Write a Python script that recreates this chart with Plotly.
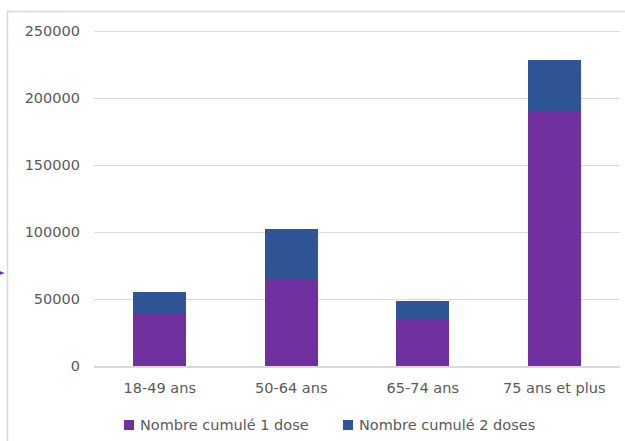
import plotly.graph_objects as go

# Age groups and cumulative vaccination counts
categories = ["18-49 ans", "50-64 ans", "65-74 ans", "75 ans et plus"]
one_dose = [39000, 64900, 34600, 190500]
two_doses = [16200, 37800, 14100, 38100]
series_names = ["Nombre cumulé 1 dose", "Nombre cumulé 2 doses"]
y_ticks = [0, 50000, 100000, 150000, 200000, 250000]

PURPLE = "#7030A0"
BLUE = "#2F5597"
GRID = "#D9D9D9"
TEXT = "#595959"
FONT = "DejaVu Sans"
FSIZE = 14.5
colors = [PURPLE, BLUE]

fig = go.Figure()
for name, vals, col in zip(series_names, [one_dose, two_doses], colors):
    fig.add_trace(go.Bar(
        x=categories, y=vals, name=name,
        marker=dict(color=col, line=dict(width=0)),
        width=0.4, showlegend=False,
    ))

W, H = 625, 441
L, R, T, B = 94, 5, 30, 75
pw, ph = W - L - R, H - T - B


def px_x(x):
    return (x - L) / pw


def px_y(y):
    return (H - B - y) / ph


shapes = [
    # chart-area frame (extends past the right and bottom edges)
    dict(type="rect", xref="paper", yref="paper",
         x0=px_x(7.5), x1=px_x(W + 20), y0=px_y(H + 20), y1=px_y(11.5),
         line=dict(color=GRID, width=1.5), fillcolor="rgba(0,0,0,0)", layer="below"),
    # small purple pointer at the left edge
    dict(type="path", xref="paper", yref="paper",
         path=(f"M {px_x(0)} {px_y(271.5)} L {px_x(4)} {px_y(273)} "
               f"L {px_x(0)} {px_y(274.5)} Z"),
         fillcolor=PURPLE, line=dict(color=PURPLE, width=0.5)),
]

# legend: colour swatch followed by the series name
annotations = []
legend_left = [124, 343]
legend_y = 425
for name, col, x0 in zip(series_names, colors, legend_left):
    shapes.append(dict(
        type="rect", xref="paper", yref="paper",
        x0=px_x(x0), x1=px_x(x0 + 10),
        y0=px_y(legend_y + 5), y1=px_y(legend_y - 5),
        fillcolor=col, line=dict(width=0),
    ))
    annotations.append(dict(
        xref="paper", yref="paper", x=px_x(x0 + 14), y=px_y(legend_y),
        xanchor="left", yanchor="middle", text=name, showarrow=False,
        font=dict(family=FONT, size=FSIZE, color=TEXT),
    ))

fig.update_layout(
    width=W, height=H,
    margin=dict(l=L, r=R, t=T, b=B, pad=0, autoexpand=False),
    barmode="stack",
    plot_bgcolor="white", paper_bgcolor="white",
    font=dict(family=FONT, size=FSIZE, color=TEXT),
    showlegend=False,
    shapes=shapes,
    annotations=annotations,
)
fig.update_xaxes(
    showgrid=False, showline=True, linecolor=GRID, linewidth=1.5,
    ticks="", ticklabelstandoff=8,
    tickfont=dict(family=FONT, size=FSIZE, color=TEXT),
    range=[-0.5, 3.5],
)
fig.update_yaxes(
    range=[0, 251000], tickvals=y_ticks,
    ticktext=[str(v) for v in y_ticks],
    showgrid=True, gridcolor=GRID, gridwidth=1,
    zeroline=False, showline=False, ticks="",
    ticklabelstandoff=13,
    tickfont=dict(family=FONT, size=FSIZE, color=TEXT),
)

fig.write_html("out.html")
